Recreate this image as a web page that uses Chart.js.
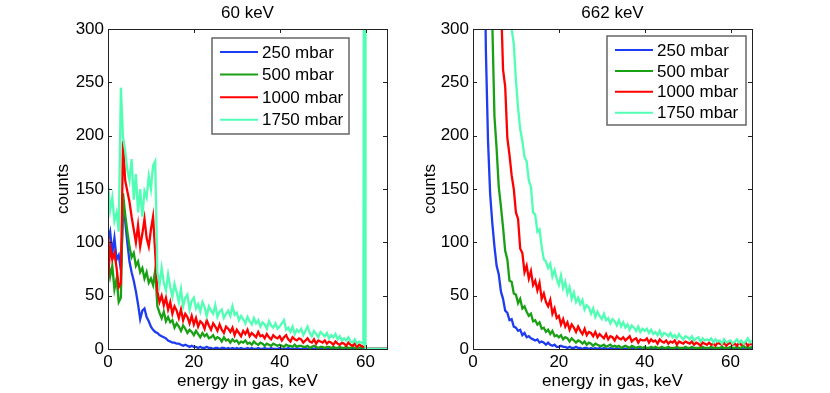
<!DOCTYPE html>
<html>
<head>
<meta charset="utf-8">
<script src="https://cdn.jsdelivr.net/npm/chart.js@4.4.1/dist/chart.umd.min.js"></script>
<style>
  html, body { margin: 0; padding: 0; background: #fff; }
  #wrap { position: relative; width: 830px; height: 393px; overflow: hidden; }
  canvas { position: absolute; top: 0; }
  #c1 { left: 0; }
  #c2 { left: 415px; }
</style>
</head>
<body>
<div id="wrap">
  <canvas id="c1" width="415" height="393"></canvas>
  <canvas id="c2" width="415" height="393"></canvas>
</div>
<script>
// ---------- data ----------
const energy = [
  0,0.5,1,1.5,2,2.5,3,3.5,4,4.5,
  5,5.5,6,6.5,7,7.5,8,8.5,9,9.5,
  10,10.5,11,11.5,12,12.5,13,13.5,14,14.5,
  15,15.5,16,16.5,17,17.5,18,18.5,19,19.5,
  20,20.5,21,21.5,22,22.5,23,23.5,24,24.5,
  25,25.5,26,26.5,27,27.5,28,28.5,29,29.5,
  30,30.5,31,31.5,32,32.5,33,33.5,34,34.5,
  35,35.5,36,36.5,37,37.5,38,38.5,39,39.5,
  40,40.5,41,41.5,42,42.5,43,43.5,44,44.5,
  45,45.5,46,46.5,47,47.5,48,48.5,49,49.5,
  50,50.5,51,51.5,52,52.5,53,53.5,54,54.5,
  55,55.5,56,56.5,57,57.5,58,58.5,59,59.5,
  60,60,60.5,61,61.5,62,62.5,63,63.5,64,64.5,65
];
const seriesLabels = ['250 mbar', '500 mbar', '1000 mbar', '1750 mbar'];
const xTicks = [0, 20, 40, 60];
const yTicks = [0, 50, 100, 150, 200, 250, 300];
const titles = ['60 keV', '662 keV'];
const xLabel = 'energy in gas, keV';
const yLabel = 'counts';

// 60 keV
const b60 = [
  102,110,90,104,84,88,74,126,120,100,
  82,72,64,54,42,28,36,38,30,26,
  21,18,16,15,13,12,11,10,8,7,
  6,6,5,5,4,3,4,3,2,3,
  2,2,1,2,1,1,2,1,1,0,
  1,1,0,1,1,0,1,0,1,0,
  1,0,1,0,0,1,0,1,0,0,
  1,0,0,1,0,0,1,0,0,0,
  1,0,0,0,1,0,0,0,1,0,
  0,0,1,0,0,0,0,1,0,0,
  0,1,0,0,0,0,1,0,0,0,
  0,0,0,1,0,0,0,0,1,0,
  0,0,0,0,0,0,0,0,0,0,0,0
];
const g60 = [
  84,68,78,56,66,44,48,146,126,110,
  96,86,90,78,82,72,76,66,72,62,
  66,60,74,40,34,29,35,26,30,25,
  27,20,24,21,17,22,19,15,18,16,
  13,17,14,11,15,12,14,10,11,13,
  9,11,10,7,11,8,9,6,9,7,
  8,5,7,6,8,5,6,4,7,5,
  4,6,5,3,5,4,3,5,4,3,
  4,3,2,4,3,3,2,4,2,3,
  3,2,2,3,1,2,3,2,1,2,
  2,1,2,2,1,2,1,1,2,1,
  1,2,1,1,2,1,1,1,2,1,
  1,0,0,0,0,0,0,0,0,0,0,0
];
const r60 = [
  64,96,84,90,76,58,62,195,158,148,
  138,124,112,100,116,96,108,122,104,96,
  112,124,90,54,44,50,41,48,37,44,
  33,40,36,29,37,27,33,30,24,31,
  23,29,21,26,24,19,27,22,18,24,
  21,17,23,18,15,21,19,16,20,13,
  18,15,12,17,14,18,12,15,13,11,
  16,12,13,10,14,11,9,13,11,10,
  12,8,11,13,9,7,11,9,8,10,
  9,6,8,10,7,6,9,5,8,7,
  6,8,5,7,6,4,7,5,4,6,
  5,3,6,4,3,5,2,4,3,2,
  2,0,0,0,0,0,0,0,0,0,0,0
];
const c60 = [
  154,130,142,120,128,110,245,198,186,168,
  158,178,140,164,128,150,124,148,142,162,
  150,172,176,72,60,76,62,55,70,58,
  49,61,53,44,56,40,48,51,37,45,
  48,38,42,35,44,39,31,40,36,33,
  41,30,35,37,29,33,36,31,40,32,
  34,27,31,28,24,30,26,23,29,24,
  27,21,25,23,19,26,22,20,24,19,
  21,24,27,18,20,16,21,14,18,16,
  19,13,17,21,15,12,17,14,11,16,
  14,12,15,10,13,11,14,9,12,8,
  10,8,11,7,6,9,5,7,6,5,
  2000,0,0,0,0,0,0,0,0,0,0,0
];

// 662 keV
const b662 = [
  2400,1800,1300,950,680,440,280,195,145,118,
  96,78,70,54,47,36,34,27,28,21,
  20,17,18,13,15,11,12,10,9,8,
  9,6,7,6,4,6,4,3,4,2,
  2,3,2,2,1,2,1,1,2,1,
  1,0,1,1,0,1,0,1,0,1,
  0,1,0,0,1,0,0,1,0,0,
  1,0,0,0,1,0,0,0,1,0,
  0,0,1,0,0,0,0,1,0,0,
  0,1,0,0,0,0,1,0,0,0,
  0,0,0,1,0,0,0,0,1,0,
  0,0,1,0,0,0,0,0,1,0,
  0,0,0,1,0,0,0,0,1,0,0,0
];
const g662 = [
  4000,3200,2500,2000,1500,1100,820,600,420,305,
  218,188,152,134,114,92,84,64,63,52,
  51,43,47,38,40,35,31,33,26,27,
  23,25,19,20,16,18,14,17,12,13,
  11,13,9,11,10,7,10,8,6,8,
  7,5,7,4,6,5,3,5,4,3,
  3,4,2,3,4,2,3,2,3,1,
  2,3,2,1,3,2,1,2,2,1,
  2,1,1,2,1,2,1,1,2,1,
  1,2,1,1,1,2,1,1,1,2,
  1,1,2,1,1,1,1,2,1,1,
  1,2,1,1,1,1,2,1,1,1,
  2,2,1,1,2,1,1,3,1,2,1,2
];
const r662 = [
  9000,7000,5400,4200,3200,2500,1900,1450,1100,820,
  620,480,400,330,262,246,198,182,163,150,
  128,122,94,90,72,78,66,73,60,64,
  55,62,47,52,44,40,46,33,38,29,
  31,23,28,21,25,18,23,20,16,21,
  17,14,19,13,16,15,12,16,11,14,
  12,10,14,9,12,11,8,12,10,9,
  11,8,10,12,7,9,10,6,9,8,
  8,10,6,9,7,8,5,9,7,6,
  8,5,7,6,8,4,7,6,5,7,
  6,5,7,4,6,5,3,6,5,4,
  6,4,5,3,6,5,4,6,3,5,
  6,6,4,5,3,6,4,5,6,3,5,4
];
const c662 = [
  15000,12000,9500,7500,6000,4800,3800,3000,2400,1900,
  1500,1200,950,760,600,480,400,340,300,286,
  252,226,206,195,180,176,158,152,128,126,
  110,112,96,84,82,76,80,68,74,66,
  60,69,57,63,52,58,47,53,44,48,
  42,46,37,41,39,33,38,30,35,31,
  28,33,27,29,24,28,26,22,27,21,
  25,20,23,18,22,20,17,21,16,19,
  17,19,15,18,14,16,13,17,12,15,
  14,12,15,11,13,10,14,11,9,12,
  11,9,12,8,10,11,7,10,8,9,
  8,10,6,9,7,8,5,9,6,7,
  8,8,5,7,9,6,8,5,7,10,6,8
];

// ---------- styling ----------
const colors = ['rgb(30,60,240)', 'rgb(25,160,20)', 'rgb(255,0,0)', 'rgb(80,255,180)'];
const FONT = '"Liberation Sans", Arial, Helvetica, sans-serif';
Chart.defaults.font.family = FONT;
Chart.defaults.font.size = 17;
Chart.defaults.color = '#000';

const framePlugin = {
  id: 'frame',
  afterDatasetsDraw(chart, args, o) {
    const { ctx, chartArea: a, scales } = chart;
    const x = scales.x, y = scales.y;
    ctx.save();
    ctx.strokeStyle = '#222';
    ctx.lineWidth = 1;
    ctx.strokeRect(Math.round(a.left) + 0.5, Math.round(a.top) + 0.5,
                   Math.round(a.right) - Math.round(a.left), Math.round(a.bottom) - Math.round(a.top));
    const tl = 4;
    ctx.beginPath();
    x.ticks.forEach(t => {
      const px = Math.round(x.getPixelForValue(t.value)) + 0.5;
      ctx.moveTo(px, a.bottom); ctx.lineTo(px, a.bottom - tl);
      ctx.moveTo(px, a.top); ctx.lineTo(px, a.top + tl);
    });
    y.ticks.forEach(t => {
      const py = Math.round(y.getPixelForValue(t.value)) + 0.5;
      ctx.moveTo(a.left, py); ctx.lineTo(a.left + tl, py);
      ctx.moveTo(a.right, py); ctx.lineTo(a.right - tl, py);
    });
    ctx.stroke();

    const L = o.legend;
    ctx.fillStyle = '#fff';
    ctx.fillRect(L.left, L.top, L.width, L.height);
    ctx.strokeStyle = '#666';
    ctx.lineWidth = 1.5;
    ctx.strokeRect(L.left, L.top, L.width, L.height);
    ctx.font = '17px ' + FONT;
    ctx.textBaseline = 'middle';
    ctx.textAlign = 'left';
    chart.data.datasets.forEach((ds, i) => {
      const ry = L.rowTop + i * L.rowStep;
      ctx.strokeStyle = ds.borderColor;
      ctx.lineWidth = 2;
      ctx.beginPath();
      ctx.moveTo(L.left + 8, ry); ctx.lineTo(L.left + 46, ry);
      ctx.stroke();
      ctx.fillStyle = '#000';
      ctx.fillText(ds.label, L.left + 50, ry + 1);
    });

    const cx = (a.left + a.right) / 2;
    const cy = (a.top + a.bottom) / 2;
    ctx.fillStyle = '#000';
    ctx.textAlign = 'center';
    ctx.textBaseline = 'alphabetic';
    ctx.font = '17px ' + FONT;
    ctx.fillText(o.title, cx, 18);
    ctx.fillText(xLabel, cx, 386);
    ctx.translate(o.yLabelX, cy);
    ctx.rotate(-Math.PI / 2);
    ctx.fillText(yLabel, 0, 0);
    ctx.restore();
  }
};

function points(vals) {
  return vals.map((v, i) => ({ x: energy[i], y: v }));
}

function makeChart(id, title, series, geo) {
  return new Chart(document.getElementById(id), {
    type: 'line',
    data: {
      datasets: series.map((s, k) => ({
        label: seriesLabels[k],
        data: points(s),
        borderColor: colors[k],
        backgroundColor: colors[k],
        borderWidth: 2.3,
        pointRadius: 0,
        tension: 0,
        fill: false,
        order: 4 - k
      }))
    },
    options: {
      responsive: false,
      animation: false,
      events: [],
      layout: { padding: { left: 0, right: geo.padRight, top: 29, bottom: 0 } },
      plugins: {
        legend: { display: false },
        tooltip: { enabled: false },
        title: { display: false },
        frame: { title: title, legend: geo.legend, yLabelX: geo.yLabelX }
      },
      scales: {
        x: {
          type: 'linear', min: 0, max: 65,
          afterBuildTicks: s => { s.ticks = xTicks.map(v => ({ value: v })); },
          afterFit: s => { s.height = 44; },
          grid: { display: false, drawTicks: false },
          border: { display: false },
          ticks: { padding: 3, color: '#000', maxRotation: 0, autoSkip: false, font: { size: 17 } }
        },
        y: {
          type: 'linear', min: 0, max: 300,
          afterBuildTicks: s => { s.ticks = yTicks.map(v => ({ value: v })); },
          afterFit: s => { s.width = geo.yWidth; },
          grid: { display: false, drawTicks: false },
          border: { display: false },
          ticks: { padding: 4, color: '#000', autoSkip: false, font: { size: 17 } }
        }
      }
    },
    plugins: [framePlugin]
  });
}

makeChart('c1', titles[0], [b60, g60, r60, c60], {
  padRight: 28, yWidth: 108, yLabelX: 68,
  legend: { left: 212, top: 38, width: 137, height: 96, rowTop: 52, rowStep: 22.6 }
});
makeChart('c2', titles[1], [b662, g662, r662, c662], {
  padRight: 78, yWidth: 58, yLabelX: 20,
  legend: { left: 192, top: 36, width: 139, height: 89, rowTop: 50, rowStep: 20.9 }
});
</script>
</body>
</html>
